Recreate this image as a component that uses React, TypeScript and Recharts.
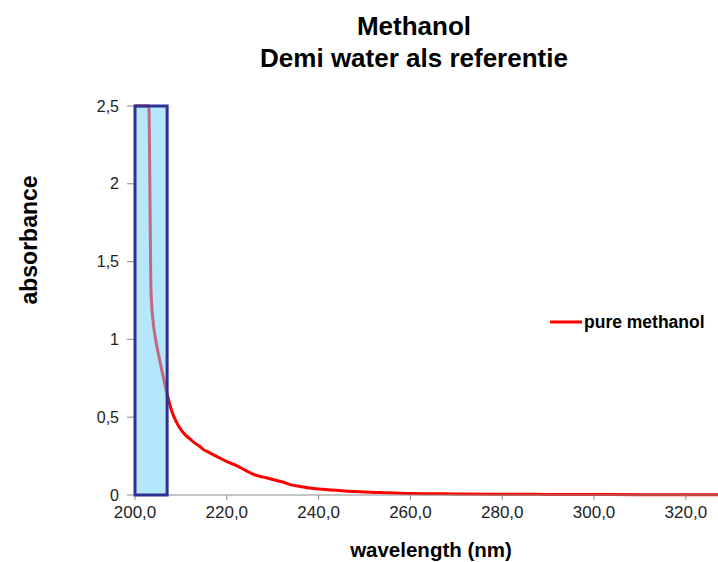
import {
  ComposedChart,
  Line,
  ReferenceArea,
  XAxis,
  YAxis,
} from "recharts";

// Spectrum of pure methanol, demineralised water as the reference
const wavelengths = [
  200, 201, 202, 203, 203.5, 204, 204.5, 205, 205.5, 206, 206.5, 207, 207.5,
  208, 209, 210, 211, 212, 213, 214, 215, 216, 218, 220, 222, 224, 226, 228,
  230, 232, 234, 236, 238, 240, 245, 250, 255, 260, 270, 280, 290, 300, 310,
  320, 327,
];
const absorbance = [
  2.5, 2.5, 2.5, 2.5, 1.3, 1.1, 1.0, 0.92, 0.85, 0.78, 0.71, 0.65, 0.59,
  0.54, 0.47, 0.42, 0.385, 0.36, 0.335, 0.315, 0.29, 0.275, 0.245, 0.215, 0.19,
  0.16, 0.13, 0.115, 0.1, 0.085, 0.065, 0.055, 0.045, 0.038, 0.028, 0.02, 0.015,
  0.01, 0.007, 0.005, 0.004, 0.003, 0.002, 0.002, 0.002,
];

const xTicks = [200, 220, 240, 260, 280, 300, 320];
const yTicks = [0, 0.5, 1, 1.5, 2, 2.5];

// highlighted cut-off window
const windowStart = 200;
const windowEnd = 207;

const seriesName = "pure methanol";

const data = wavelengths.map((nm, i) => ({ nm, value: absorbance[i] }));

const FONT = "'Liberation Sans', Arial, sans-serif";

function commaNumber(value: number, digits: number) {
  return value.toFixed(digits).replace(".", ",");
}

export default function App() {
  return (
    <div
      style={{
        position: "absolute",
        left: 0,
        top: 0,
        width: 718,
        height: 562,
        background: "#fff",
        fontFamily: FONT,
      }}
    >
      <ComposedChart
        width={718}
        height={562}
        data={data}
        margin={{ top: 106, right: 0, bottom: 37, left: 0 }}
      >
        <text
          x={414}
          y={35}
          textAnchor="middle"
          fontFamily={FONT}
          fontSize={26}
          fontWeight="bold"
          fill="#000"
        >
          Methanol
        </text>
        <text
          x={414}
          y={67}
          textAnchor="middle"
          fontFamily={FONT}
          fontSize={26}
          fontWeight="bold"
          fill="#000"
        >
          Demi water als referentie
        </text>
        <text
          x={0}
          y={0}
          transform="translate(37 240) rotate(-90)"
          textAnchor="middle"
          fontFamily={FONT}
          fontSize={23}
          fontWeight="bold"
          fill="#000"
        >
          absorbance
        </text>
        <text
          x={431}
          y={557}
          textAnchor="middle"
          fontFamily={FONT}
          fontSize={20.5}
          fontWeight="bold"
          fill="#000"
        >
          wavelength (nm)
        </text>

        {/* legend */}
        <line x1={550} y1={322} x2={582} y2={322} stroke="#ff0000" strokeWidth={3} />
        <text
          x={584}
          y={328}
          fontFamily={FONT}
          fontSize={17.5}
          fontWeight="bold"
          fill="#000"
        >
          {seriesName}
        </text>

        <XAxis
          dataKey="nm"
          type="number"
          domain={[200, 327]}
          ticks={xTicks}
          allowDataOverflow
          tickFormatter={(v) => commaNumber(v, 1)}
          tick={{ fill: "#222", fontSize: 17, fontFamily: FONT }}
          stroke="#8c8c8c"
          tickSize={5}
          tickMargin={6}
          height={30}
        />
        <YAxis
          type="number"
          domain={[0, 2.5]}
          ticks={yTicks}
          tickFormatter={(v) => (Number.isInteger(v) ? String(v) : commaNumber(v, 1))}
          tick={{ fill: "#222", fontSize: 16, fontFamily: FONT }}
          stroke="#8c8c8c"
          tickSize={8}
          tickMargin={8}
          width={135}
        />
        {/* window fill under the curve */}
        <ReferenceArea
          x1={windowStart}
          x2={windowEnd}
          y1={0}
          y2={2.5}
          fill="#e7faf9"
          fillOpacity={1}
          stroke="none"
          zIndex={-50}
        />
        <Line
          dataKey="value"
          name={seriesName}
          type="monotone"
          stroke="#ff0000"
          strokeWidth={3}
          dot={false}
          activeDot={false}
          isAnimationActive={false}
        />
        {/* tinted overlay and frame on top of the curve */}
        <ReferenceArea
          x1={windowStart}
          x2={windowEnd}
          y1={0}
          y2={2.5}
          fill="#81d2ff"
          fillOpacity={0.5}
          stroke="#2e3192"
          strokeWidth={3}
          zIndex={1000}
        />
      </ComposedChart>
    </div>
  );
}
